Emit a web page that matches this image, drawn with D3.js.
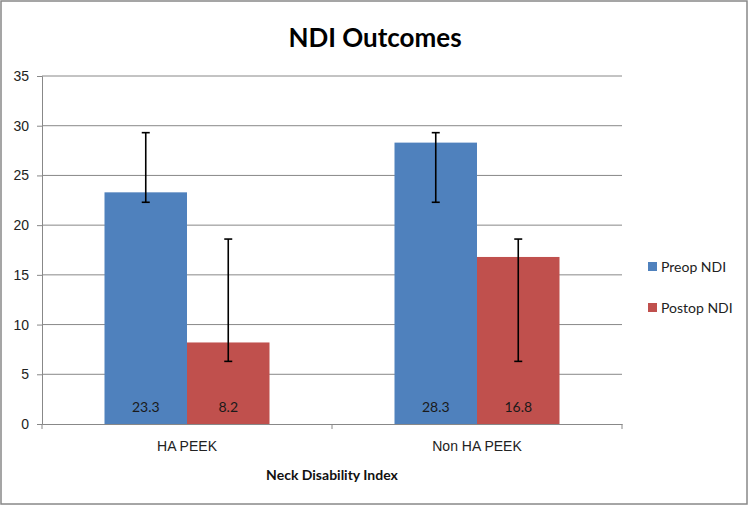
<!DOCTYPE html>
<html><head><meta charset="utf-8">
<script src="https://cdnjs.cloudflare.com/ajax/libs/d3/7.8.5/d3.min.js"></script>
<style>body{margin:0;background:#fff;} svg{display:block;font-family:Lato,"Open Sans",sans-serif;}</style>
</head><body>
<svg id="c" width="750" height="506"></svg>
<script>
const categories = ["HA PEEK", "Non HA PEEK"];
const seriesNames = ["Preop NDI", "Postop NDI"];
const preop = [23.3, 28.3];
const postop = [8.2, 16.8];
const preopErrLow = [22.3, 22.3];
const preopErrHigh = [29.3, 29.3];
const postopErrLow = [6.3, 6.3];
const postopErrHigh = [18.6, 18.6];
const yTicks = [0, 5, 10, 15, 20, 25, 30, 35];
const colors = ["#4F81BD", "#C0504D"];

const svg = d3.select("#c");
svg.append("rect").attr("x", 1).attr("y", 1).attr("width", 746).attr("height", 503)
  .attr("fill", "#fff").attr("stroke", "#888").attr("stroke-width", 1.5);

const L = 42, R = 622, T = 76, B = 424;
const x = d3.scaleBand().domain(categories).range([L, R]).paddingInner(0).paddingOuter(0);
const y = d3.scaleLinear().domain([0, 35]).range([B, T]);
const groupW = 165;
const xs = d3.scaleBand().domain(seriesNames).range([0, groupW]);

// gridlines
svg.append("g").selectAll("line").data(yTicks.filter(d => d > 0)).join("line")
  .attr("x1", L).attr("x2", R).attr("y1", d => y(d)).attr("y2", d => y(d))
  .attr("stroke", "#888").attr("stroke-width", 1);

// y axis
const ya = svg.append("g").attr("transform", `translate(${L},0)`)
  .call(d3.axisLeft(y).tickValues(yTicks).tickSize(5).tickPadding(8));
ya.select(".domain").attr("stroke", "#888");
ya.selectAll(".tick line").attr("stroke", "#888");
ya.selectAll(".tick text").attr("font-size", 14).attr("fill", "#222");

const data = categories.map((c, i) => [
  {cat: c, s: seriesNames[0], v: preop[i], lo: preopErrLow[i], hi: preopErrHigh[i], col: colors[0]},
  {cat: c, s: seriesNames[1], v: postop[i], lo: postopErrLow[i], hi: postopErrHigh[i], col: colors[1]}
]).flat();

const gx = d => x(d.cat) + (x.bandwidth() - groupW) / 2 + xs(d.s);

svg.append("g").selectAll("rect").data(data).join("rect")
  .attr("x", gx).attr("width", xs.bandwidth())
  .attr("y", d => y(d.v)).attr("height", d => y(0) - y(d.v))
  .attr("fill", d => d.col);

// x axis
const xa = svg.append("g").attr("transform", `translate(0,${B})`)
  .call(d3.axisBottom(x).tickSize(0).tickPadding(17));
xa.select(".domain").attr("stroke", "#888");
xa.selectAll(".tick text").attr("font-size", 14).attr("fill", "#222");
svg.append("g").selectAll("line").data([L, x(categories[1]), R]).join("line")
  .attr("x1", d => d).attr("x2", d => d).attr("y1", B).attr("y2", B + 5).attr("stroke", "#888");

// error bars
const eb = svg.append("g").attr("stroke", "#000").attr("stroke-width", 1.6);
data.forEach(d => {
  const cx = gx(d) + xs.bandwidth() / 2;
  eb.append("line").attr("x1", cx).attr("x2", cx).attr("y1", y(d.hi)).attr("y2", y(d.lo));
  [d.hi, d.lo].forEach(v => eb.append("line").attr("x1", cx - 4).attr("x2", cx + 4).attr("y1", y(v)).attr("y2", y(v)));
});

// data labels
svg.append("g").selectAll("text").data(data).join("text")
  .attr("x", d => gx(d) + xs.bandwidth() / 2).attr("y", B - 12)
  .attr("text-anchor", "middle").attr("font-size", 14).attr("fill", "#1a1a1a")
  .text(d => d.v);

// title
svg.append("text").attr("x", 375).attr("y", 47).attr("text-anchor", "middle")
  .attr("font-size", 26).attr("font-weight", "bold").attr("fill", "#000").text("NDI Outcomes");

// x axis title
svg.append("text").attr("x", (L + R) / 2).attr("y", 480).attr("text-anchor", "middle")
  .attr("font-size", 14).attr("font-weight", "bold").attr("fill", "#111").text("Neck Disability Index");

// legend
const lg = svg.append("g");
seriesNames.forEach((s, i) => {
  const yy = 267 + i * 41;
  lg.append("rect").attr("x", 648).attr("y", yy - 5).attr("width", 9).attr("height", 9).attr("fill", colors[i]);
  lg.append("text").attr("x", 661).attr("y", yy + 5).attr("font-size", 14).attr("fill", "#222").text(s);
});
</script>
</body></html>
